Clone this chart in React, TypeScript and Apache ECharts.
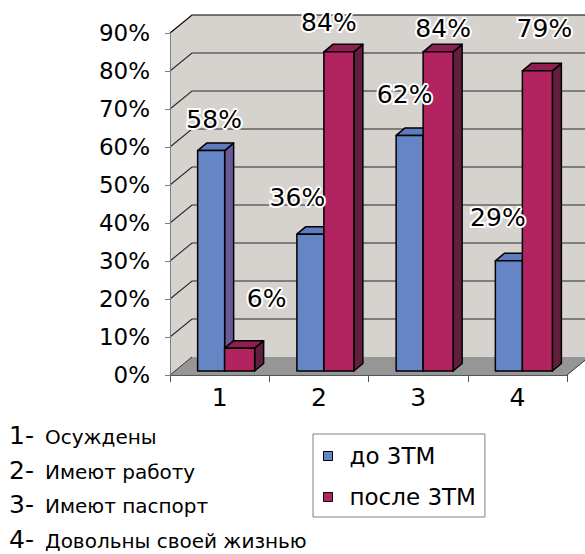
import React, { useEffect, useRef } from "react";
import * as echarts from "echarts";

// ---------- data ----------
const CATEGORIES = ["1", "2", "3", "4"];
const CAPTIONS = ["Осуждены", "Имеют работу", "Имеют паспорт", "Довольны своей жизнью"];
const SERIES_NAMES = ["до 3ТМ", "после 3ТМ"];
const BEFORE = [58, 36, 62, 29];
const AFTER = [6, 84, 84, 79];
const Y_TICKS = [0, 10, 20, 30, 40, 50, 60, 70, 80, 90];

// ---------- style ----------
const FONT = "'DejaVu Sans', 'Liberation Sans', Arial, sans-serif";
const DEPTH = [22, -18]; // wall depth offset
const BAR_SHIFT = [5, -4]; // bar front plane offset
const BAR_DEPTH = [9, -7.5];
const BAR_W = [27, 30];
const LABEL_NUDGE = [
  [[3, -31], [-13, -37], [-5, -41], [-11, -43]],
  [[27, -50], [-10, -29], [5, -23], [7, -42]],
];
const COLORS = [
  { front: "#6585C4", top: "#5E7CBD", side: "#6A5A9B" },
  { front: "#B1245F", top: "#8E1F50", side: "#611F3D" },
];
const WALL = "#D6D3CF";
const FLOOR = "#969696";
const ANNOT_Y0 = 435.5;
const ANNOT_STEP = 34.6;

function barRender(s: number) {
  return (params: any, api: any) => {
    const i = api.value(0);
    const v = api.value(1);
    const [cx, yv] = api.coord([i, v]);
    const y0 = api.coord([i, 0])[1];
    const b = cx + BAR_SHIFT[0];
    const x0 = s === 0 ? b - BAR_W[0] : b;
    const x1 = s === 0 ? b : b + BAR_W[1];
    const top = yv + BAR_SHIFT[1];
    const bot = y0 + BAR_SHIFT[1];
    const [dx, dy] = BAR_DEPTH;
    const c = COLORS[s];
    const st = (fill: string) => ({ fill, stroke: "#000", lineWidth: 1.5, lineJoin: "round" });
    const nudge = LABEL_NUDGE[s][i];
    return {
      type: "group",
      children: [
        {
          type: "polygon",
          shape: { points: [[x1, top], [x1 + dx, top + dy], [x1 + dx, bot + dy], [x1, bot]] },
          style: st(c.side),
        },
        {
          type: "polygon",
          shape: { points: [[x0, top], [x1, top], [x1 + dx, top + dy], [x0 + dx, top + dy]] },
          style: st(c.top),
        },
        {
          type: "rect",
          shape: { x: x0, y: top, width: x1 - x0, height: bot - top },
          style: st(c.front),
        },
        {
          type: "text",
          z2: 100,
          x: (x0 + x1) / 2 + nudge[0],
          y: top + nudge[1],
          style: {
            text: v + "%",
            align: "center",
            verticalAlign: "middle",
            fill: "#000",
            stroke: "#fff",
            lineWidth: 4,
            font: `25px ${FONT}`,
          },
        },
      ],
    };
  };
}

function wallRender(params: any, api: any) {
  const cs = params.coordSys;
  const L = cs.x;
  const R = cs.x + cs.width;
  const T = cs.y;
  const B = cs.y + cs.height;
  const [dx, dy] = DEPTH;
  const children: any[] = [
    {
      type: "polygon",
      shape: { points: [[L, B], [L + dx, B + dy], [L + dx, T + dy], [L, T]] },
      style: { fill: WALL },
    },
    {
      type: "rect",
      shape: { x: L + dx, y: T + dy, width: cs.width, height: cs.height },
      style: { fill: WALL },
    },
    {
      type: "polygon",
      shape: { points: [[L, B], [R, B], [R + dx, B + dy], [L + dx, B + dy]] },
      style: { fill: FLOOR },
    },
    {
      type: "line",
      shape: { x1: L, y1: B, x2: L + dx, y2: B + dy },
      style: { stroke: "#333", lineWidth: 1 },
    },
    {
      type: "line",
      shape: { x1: R, y1: B, x2: R + dx, y2: B + dy },
      style: { stroke: "#333", lineWidth: 1 },
    },
  ];
  Y_TICKS.forEach((t, k) => {
    if (k === 0) return;
    const y = api.coord([0, t])[1];
    const last = k === Y_TICKS.length - 1;
    children.push({
      type: "polyline",
      shape: { points: [[L, y], [L + dx, y + dy], [R + dx + 20, y + dy]] },
      style: { stroke: last ? "#000" : "#2a2a2a", lineWidth: 1.1, fill: null },
    });
  });
  return { type: "group", children };
}

export default function App() {
  const ref = useRef<HTMLDivElement>(null);
  useEffect(() => {
    const chart = echarts.init(ref.current!, null, { renderer: "svg" });
    const option: any = {
      animation: false,
      backgroundColor: "#fff",
      color: [COLORS[0].front, COLORS[1].front],
      grid: { left: 170, top: 33, width: 397, height: 342 },
      xAxis: {
        type: "category",
        data: CATEGORIES,
        axisLine: { lineStyle: { color: "#555", width: 1 } },
        axisTick: { show: true, length: 7, lineStyle: { color: "#555" } },
        axisLabel: { fontSize: 25, fontFamily: FONT, color: "#000", margin: 10 },
        splitLine: { show: false },
        z: 10,
      },
      yAxis: {
        type: "value",
        min: Y_TICKS[0],
        max: Y_TICKS[Y_TICKS.length - 1],
        interval: Y_TICKS[1] - Y_TICKS[0],
        axisLine: { show: true, lineStyle: { color: "#808080", width: 1 } },
        axisTick: { show: true, length: 5, lineStyle: { color: "#808080" } },
        axisLabel: { formatter: "{value}%", fontSize: 23, fontFamily: FONT, color: "#000", margin: 20 },
        splitLine: { show: false },
        z: 10,
      },
      legend: {
        orient: "vertical",
        left: 313,
        top: 434,
        padding: [9, 9, 7, 10],
        itemWidth: 9,
        itemHeight: 9,
        itemGap: 15,
        icon: "rect",
        backgroundColor: "#fff",
        borderColor: "#808080",
        borderWidth: 1,
        borderRadius: 0,
        itemStyle: { borderColor: "#000", borderWidth: 1 },
        textStyle: { fontFamily: FONT, fontSize: 23, color: "#000", lineHeight: 26, padding: [0, 0, 0, 12] },
        data: SERIES_NAMES,
      },
      graphic: CATEGORIES.flatMap((c, i) => [
        {
          type: "text",
          x: 9,
          y: ANNOT_Y0 + i * ANNOT_STEP,
          style: {
            text: c + "-",
            font: `25px ${FONT}`,
            lineHeight: 16,
            fill: "#000",
            verticalAlign: "middle",
          },
        },
        {
          type: "text",
          x: 45,
          y: ANNOT_Y0 + i * ANNOT_STEP + 1.5,
          style: {
            text: CAPTIONS[i],
            font: `20px ${FONT}`,
            lineHeight: 14,
            fill: "#000",
            verticalAlign: "middle",
          },
        },
      ]),
      series: [
        {
          type: "custom",
          name: "walls",
          silent: true,
          z: 1,
          renderItem: wallRender,
          data: [[0, 0]],
        },
        {
          type: "custom",
          name: SERIES_NAMES[0],
          z: 2,
          itemStyle: { color: COLORS[0].front },
          renderItem: barRender(0),
          data: BEFORE.map((v, i) => [i, v]),
        },
        {
          type: "custom",
          name: SERIES_NAMES[1],
          z: 2,
          itemStyle: { color: COLORS[1].front },
          renderItem: barRender(1),
          data: AFTER.map((v, i) => [i, v]),
        },
      ],
    };
    chart.setOption(option);
    return () => chart.dispose();
  }, []);
  return (
    <div
      ref={ref}
      style={{ position: "fixed", left: 0, top: 0, width: 585, height: 554, background: "#fff" }}
    />
  );
}
